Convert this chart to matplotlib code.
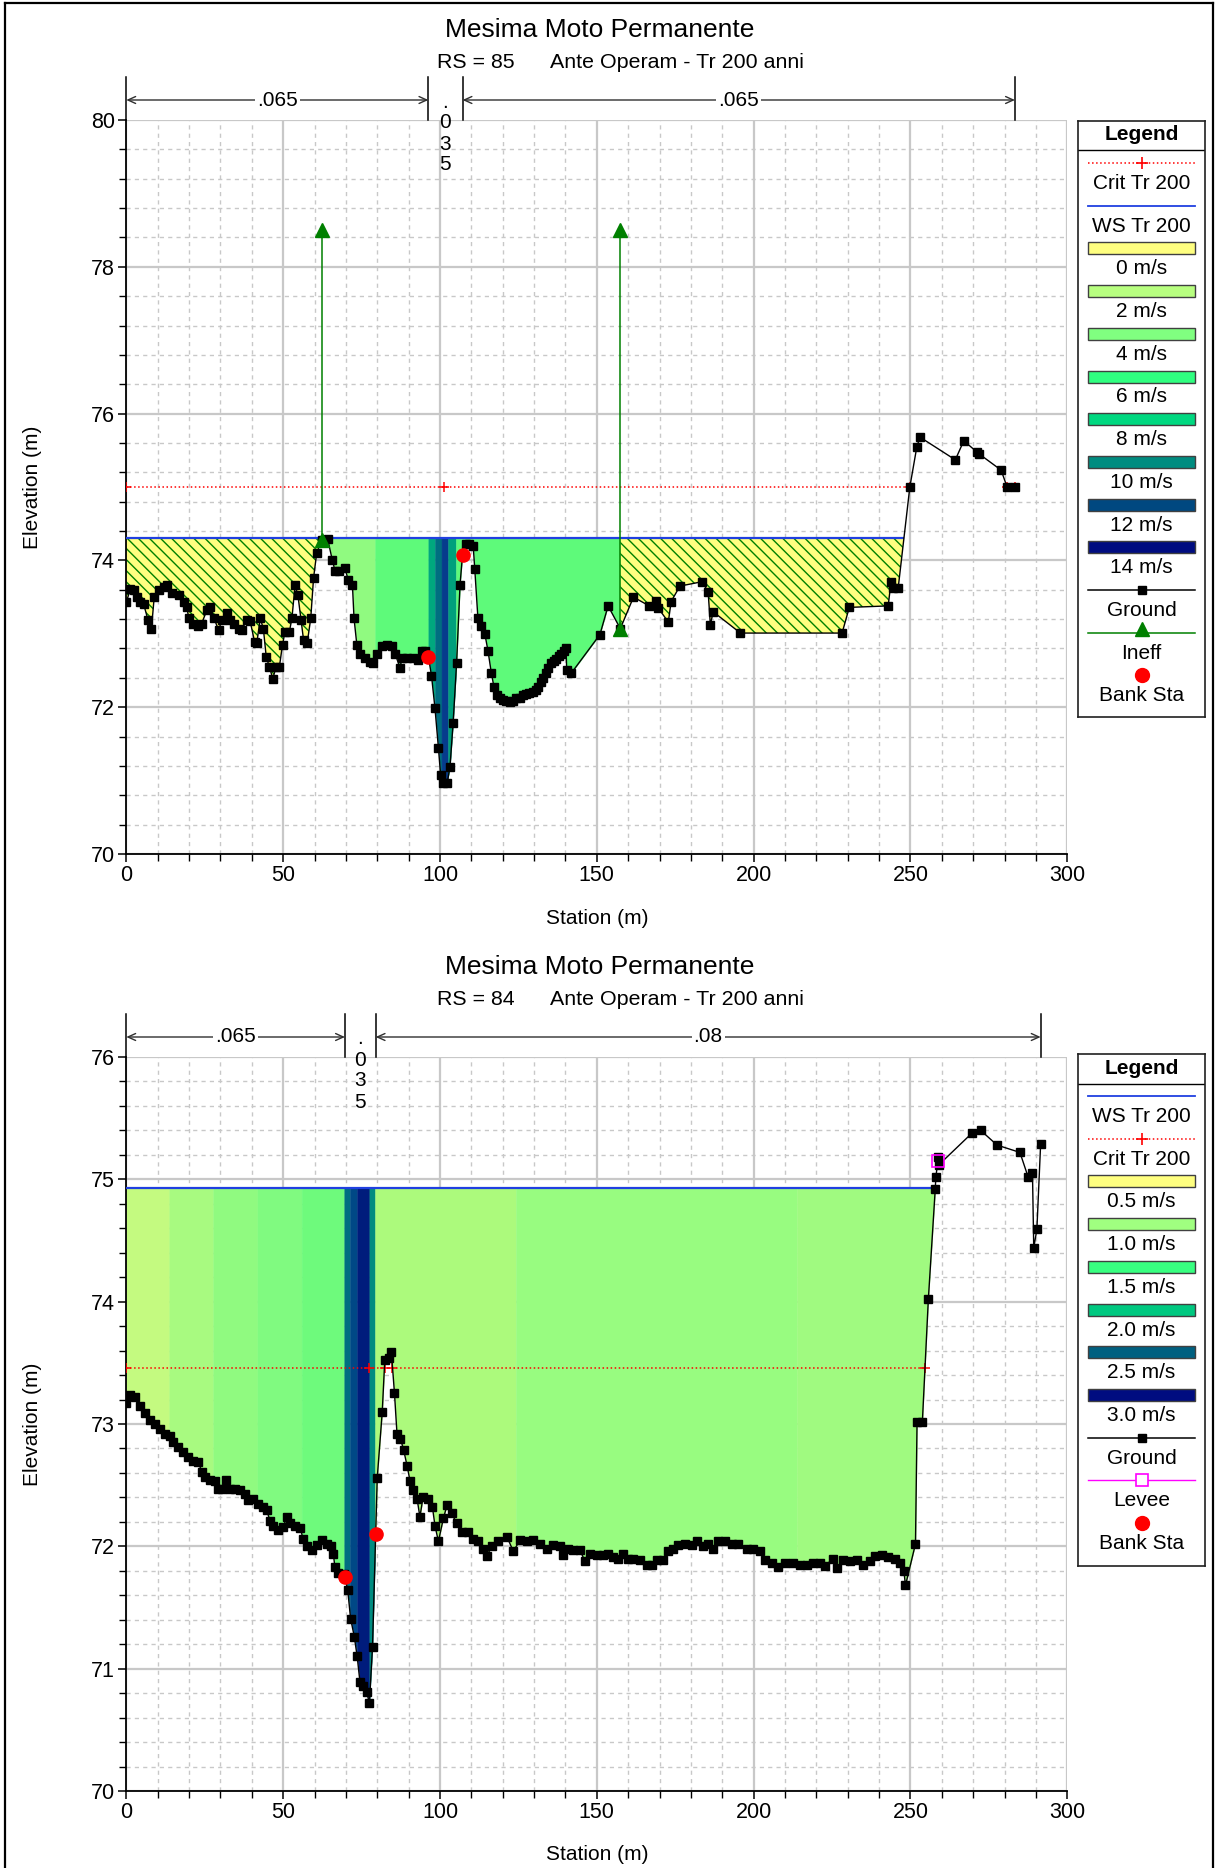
import numpy as np
import matplotlib
matplotlib.use("Agg")
import matplotlib.pyplot as plt
from matplotlib.ticker import MultipleLocator
from matplotlib.patches import Rectangle
from matplotlib.lines import Line2D
from matplotlib.transforms import blended_transform_factory

plt.rcParams["font.family"] = ["Liberation Sans", "DejaVu Sans"]
plt.rcParams["hatch.linewidth"] = 1.0

W, H, DPI = 1215, 1868, 100

TITLE = "Mesima Moto Permanente"
PLAN = "Ante Operam - Tr 200 anni"

# ---------------- RS 85 ----------------
rs85_ground = [
    (0.0, 73.43), (1.3, 73.61), (2.3, 73.60), (3.4, 73.50), (4.5, 73.44), (5.5, 73.41),
    (6.9, 73.19), (8.0, 73.06), (8.9, 73.50), (10.3, 73.60), (11.9, 73.64), (13.0, 73.66),
    (14.5, 73.55), (16.7, 73.53), (18.3, 73.44), (19.3, 73.37), (19.9, 73.21), (21.4, 73.14),
    (23.0, 73.10), (24.0, 73.14), (25.7, 73.32), (26.8, 73.37), (28.0, 73.21), (29.4, 73.05),
    (30.5, 73.19), (32.0, 73.28), (33.1, 73.19), (34.2, 73.14), (35.8, 73.07), (36.8, 73.05),
    (38.4, 73.19), (39.5, 73.17), (40.9, 72.89), (41.6, 72.87), (42.7, 73.21), (43.7, 73.07),
    (44.6, 72.69), (45.6, 72.55), (46.7, 72.39), (47.8, 72.55), (48.8, 72.55), (49.8, 72.85),
    (50.6, 73.03), (52.0, 73.03), (52.8, 73.21), (53.8, 73.66), (54.7, 73.53), (55.7, 73.19),
    (56.5, 72.92), (57.7, 72.88), (58.8, 73.21), (59.7, 73.76), (60.7, 74.10), (62.3, 74.28),
    (64.2, 74.29), (65.7, 74.00), (66.6, 73.85), (67.9, 73.85), (69.7, 73.89), (70.8, 73.73),
    (72.1, 73.66), (72.6, 73.21), (73.5, 72.85), (74.5, 72.73), (76.1, 72.67), (77.7, 72.62),
    (78.8, 72.60), (79.8, 72.73), (81.4, 72.83), (83.0, 72.85), (84.6, 72.83), (85.7, 72.73),
    (87.3, 72.53), (87.8, 72.67), (89.4, 72.67), (91.5, 72.67), (93.1, 72.64), (94.2, 72.76),
    (95.2, 72.76), (96.3, 72.69), (97.3, 72.43), (98.4, 71.99), (99.5, 71.45), (100.2, 71.08),
    (101.0, 70.97), (102.3, 70.97), (103.2, 71.19), (104.2, 71.79), (105.3, 72.60), (106.4, 73.67),
    (107.2, 74.08), (108.3, 74.23), (109.3, 74.23), (110.6, 74.19), (111.1, 73.88), (112.1, 73.21),
    (113.2, 73.10), (114.3, 73.00), (115.3, 72.77), (116.4, 72.46), (117.2, 72.28), (118.2, 72.16),
    (119.1, 72.12), (120.0, 72.10), (121.0, 72.09), (122.2, 72.07), (123.2, 72.09), (124.3, 72.12),
    (125.4, 72.13), (126.4, 72.17), (127.5, 72.18), (128.5, 72.19), (129.6, 72.21), (130.6, 72.24),
    (131.4, 72.28), (132.2, 72.35), (133.0, 72.40), (133.8, 72.46), (134.6, 72.53), (135.4, 72.60),
    (136.2, 72.63), (137.0, 72.66), (137.8, 72.70), (138.6, 72.73), (139.4, 72.77), (140.2, 72.80),
    (140.4, 72.51), (141.8, 72.46), (151.0, 72.99), (153.6, 73.38), (157.5, 73.07), (161.7, 73.50),
    (166.7, 73.38), (168.8, 73.45), (169.6, 73.35), (172.8, 73.16), (173.7, 73.44), (176.5, 73.65),
    (183.6, 73.71), (185.5, 73.57), (186.2, 73.12), (187.1, 73.30), (195.8, 73.01), (228.2, 73.01),
    (230.5, 73.36), (242.9, 73.38), (243.8, 73.71), (244.5, 73.62), (246.1, 73.63), (249.8, 75.00),
    (252.0, 75.54), (253.0, 75.68), (264.3, 75.37), (267.0, 75.63), (271.1, 75.48), (271.9, 75.45),
    (278.9, 75.23), (280.8, 75.00), (283.3, 75.00),
]
rs85_ws = 74.31
rs85_ws_end = 247.7
rs85_crit = 75.00
rs85_crit_pts = [[0.0, 101.4, 249.8], [280.8, 283.3]]
rs85_banks = [96.3, 107.2]
rs85_ineff_sta = [62.3, 157.5]
rs85_ineff_elev = [78.5, 78.5]
rs85_ineff_zones = [(0.0, 62.3), (157.5, 247.7)]
rs85_n_breaks = [0.0, 96.3, 107.2, 283.3]
rs85_n_values = [".065", ".035", ".065"]
rs85_bands = [
    (62.3, 79.3, "#90fa80"), (79.3, 96.3, "#5efa7a"), (96.3, 98.4, "#00a87e"),
    (98.4, 100.5, "#006e80"), (100.5, 102.6, "#063c8c"), (102.6, 105.1, "#00a07c"),
    (105.1, 157.5, "#5efa7a"),
]
rs85_legend_vel = ["0 m/s", "2 m/s", "4 m/s", "6 m/s", "8 m/s", "10 m/s", "12 m/s", "14 m/s"]
rs85_legend_col = ["#ffff80", "#b8ff80", "#80ff80", "#30ff80", "#00d880", "#008c80", "#004880", "#000c80"]

# ---------------- RS 84 ----------------
rs84_ground = [
    (0.0, 73.17), (1.2, 73.24), (2.8, 73.22), (4.4, 73.15), (6.0, 73.09), (7.6, 73.03),
    (9.1, 73.00), (10.7, 72.96), (12.3, 72.92), (13.9, 72.90), (15.0, 72.85), (16.6, 72.81),
    (18.2, 72.77), (19.8, 72.73), (21.4, 72.70), (23.0, 72.69), (24.0, 72.61), (25.1, 72.57),
    (26.7, 72.54), (28.3, 72.53), (29.3, 72.47), (30.4, 72.47), (31.8, 72.54), (33.1, 72.47),
    (34.7, 72.47), (36.2, 72.46), (37.8, 72.43), (38.9, 72.38), (40.5, 72.39), (42.1, 72.35),
    (43.7, 72.32), (44.7, 72.30), (45.8, 72.21), (46.9, 72.17), (48.5, 72.13), (50.1, 72.16),
    (51.1, 72.24), (52.2, 72.19), (53.8, 72.17), (55.4, 72.15), (56.4, 72.06), (57.5, 72.00),
    (59.1, 71.97), (60.7, 72.01), (62.3, 72.05), (63.9, 72.02), (65.2, 72.00), (66.0, 71.94),
    (66.5, 71.83), (67.6, 71.78), (69.5, 71.77), (70.6, 71.64), (71.5, 71.41), (72.7, 71.26),
    (73.6, 71.10), (74.5, 70.89), (75.6, 70.86), (76.6, 70.81), (77.5, 70.72), (78.5, 71.18),
    (80.0, 72.56), (81.6, 73.10), (82.4, 73.52), (83.8, 73.54), (84.5, 73.59), (85.5, 73.25),
    (86.3, 72.92), (87.4, 72.88), (88.4, 72.79), (89.5, 72.66), (90.5, 72.53), (91.5, 72.46),
    (92.7, 72.39), (93.6, 72.24), (94.6, 72.40), (96.2, 72.39), (97.6, 72.32), (98.4, 72.17),
    (99.5, 72.04), (101.1, 72.23), (102.3, 72.34), (103.7, 72.27), (105.3, 72.19), (106.9, 72.12),
    (109.0, 72.12), (110.6, 72.06), (112.2, 72.04), (113.8, 71.98), (114.9, 71.92), (116.5, 72.00),
    (118.6, 72.04), (121.3, 72.08), (123.4, 71.96), (125.5, 72.05), (127.6, 72.04), (129.7, 72.05),
    (131.9, 72.02), (134.0, 71.98), (136.1, 72.01), (138.3, 72.00), (139.3, 71.93), (140.9, 71.98),
    (142.5, 71.97), (144.6, 71.97), (146.2, 71.88), (147.8, 71.94), (150.0, 71.93), (152.1, 71.93),
    (153.7, 71.94), (155.2, 71.91), (156.8, 71.90), (158.4, 71.94), (160.0, 71.90), (161.6, 71.90),
    (163.8, 71.89), (165.9, 71.85), (167.5, 71.85), (169.1, 71.89), (171.2, 71.89), (172.8, 71.96),
    (174.4, 71.98), (176.0, 72.01), (178.1, 72.02), (180.2, 72.01), (181.8, 72.04), (183.9, 72.00),
    (185.5, 72.02), (187.1, 71.98), (188.7, 72.04), (190.8, 72.04), (193.0, 72.02), (195.1, 72.02),
    (197.8, 71.98), (199.9, 71.98), (202.0, 71.96), (203.6, 71.89), (205.7, 71.86), (207.8, 71.83),
    (210.0, 71.86), (212.6, 71.86), (214.8, 71.85), (216.9, 71.85), (219.0, 71.86), (221.1, 71.86),
    (222.7, 71.84), (225.4, 71.90), (226.5, 71.82), (228.6, 71.89), (230.7, 71.88), (232.8, 71.89),
    (235.0, 71.85), (237.1, 71.88), (238.7, 71.92), (240.8, 71.93), (242.9, 71.91), (245.0, 71.90),
    (246.6, 71.86), (247.9, 71.80), (248.4, 71.68), (251.6, 72.02), (252.1, 73.02), (253.8, 73.02),
    (255.7, 74.02), (257.9, 74.92), (258.1, 75.02), (258.9, 75.18), (259.1, 75.12), (269.7, 75.38),
    (272.4, 75.40), (277.6, 75.28), (284.9, 75.22), (287.5, 75.02), (288.9, 75.05), (289.3, 74.44),
    (290.3, 74.59), (291.5, 75.29),
]
rs84_ws = 74.93
rs84_ws_end = 257.9
rs84_crit = 73.46
rs84_crit_pts = [[0.0, 77.5, 82.4], [84.6, 254.6]]
rs84_banks = [69.7, 79.5]
rs84_levee_sta = 258.9
rs84_levee_elev = 75.15
rs84_n_breaks = [0.0, 69.7, 79.5, 291.5]
rs84_n_values = [".065", ".035", ".08"]
rs84_bands = [
    (0.0, 13.7, "#c4fa80"), (13.7, 27.7, "#a8fa80"), (27.7, 41.8, "#90fa80"),
    (41.8, 55.9, "#80fa80"), (55.9, 69.5, "#6efa7c"), (69.5, 71.3, "#006e80"),
    (71.3, 73.6, "#004886"), (73.6, 77.5, "#001c7c"), (77.5, 79.3, "#008c80"),
    (79.3, 124.2, "#acfa7c"), (124.2, 213.8, "#98fc80"), (213.8, 257.9, "#a0fa80"),
]
rs84_legend_vel = ["0.5 m/s", "1.0 m/s", "1.5 m/s", "2.0 m/s", "2.5 m/s", "3.0 m/s"]
rs84_legend_col = ["#ffff80", "#a0ff80", "#38ff80", "#00c880", "#006080", "#000c80"]


AX_LEFT, AX_RIGHT = 126.3, 1067.3
AX_H = 734.0


def px_axes(fig, top_px):
    return fig.add_axes([AX_LEFT / W, 1 - (top_px + AX_H) / H,
                         (AX_RIGHT - AX_LEFT) / W, AX_H / H])


def fill_slice(ax, sta, elev, ws, a, b, **kw):
    inner = sta[(sta > a) & (sta < b)]
    xs = np.concatenate([[a], inner, [b]])
    g = np.interp(xs, sta, elev)
    ax.fill_between(xs, g, ws, where=g <= ws, interpolate=True, **kw)


def style_axes(ax, ylo, yhi, ymaj, ymin):
    ax.set_xlim(0, 300)
    ax.set_ylim(ylo, yhi)
    ax.xaxis.set_major_locator(MultipleLocator(50))
    ax.xaxis.set_minor_locator(MultipleLocator(10))
    ax.yaxis.set_major_locator(MultipleLocator(ymaj))
    ax.yaxis.set_minor_locator(MultipleLocator(ymin))
    ax.set_axisbelow(True)
    ax.grid(which="major", color="#c8c8c8", lw=1.6, ls="-")
    ax.grid(which="minor", color="#c8c8c8", lw=1.0, ls=(0, (3, 3)))
    for side in ("top", "right"):
        ax.spines[side].set_visible(False)
    for side in ("left", "bottom"):
        ax.spines[side].set_linewidth(1.3)
    ax.tick_params(which="major", direction="out", length=6, width=1.1, labelsize=15.5, pad=2)
    ax.tick_params(which="minor", direction="out", length=5, width=1.0)
    ax.text(-94 / 941, 0.5, "Elevation (m)", transform=ax.transAxes, rotation=90,
            ha="center", va="center", fontsize=15)
    ax.text(0.5, -64 / AX_H, "Station (m)", transform=ax.transAxes,
            ha="center", va="center", fontsize=15)


def draw_titles(fig, top_px, rs):
    fig.text(600 / W, 1 - (top_px - 90) / H, TITLE, ha="center", va="center", fontsize=19)
    y = 1 - (top_px - 58) / H
    fig.text(437 / W, y, "RS = %d" % rs, ha="left", va="center", fontsize=15.4)
    fig.text(550 / W, y, PLAN, ha="left", va="center", fontsize=15.4)


def draw_n_values(ax, breaks, values):
    trans = blended_transform_factory(ax.transData, ax.transAxes)
    line_top = 1 + 43 / AX_H
    arrow_y = 1 + 20 / AX_H
    for b in breaks:
        ax.plot([b, b], [1.0, line_top], transform=trans, color="black", lw=1.1, clip_on=False)
    for a, b, v in zip(breaks[:-1], breaks[1:], values):
        mid = (a + b) / 2
        if b - a > 20:
            ax.annotate("", xy=(b, arrow_y), xytext=(a, arrow_y), xycoords=trans,
                        textcoords=trans, annotation_clip=False,
                        arrowprops=dict(arrowstyle="<->,head_length=0.55,head_width=0.25",
                                        color="#303030", lw=1.0, shrinkA=0, shrinkB=0))
            ax.text(mid, arrow_y, v, transform=trans, ha="center", va="center", fontsize=15,
                    bbox=dict(fc="white", ec="none", pad=1.5), clip_on=False)
        else:
            # narrow reach: the value is written one character per line
            for k, ch in enumerate(v):
                ax.text(mid, arrow_y - (k * 21 + 2) / AX_H, ch, transform=trans,
                        ha="center", va="center", fontsize=15, clip_on=False)


def draw_section(ax, ground, ws, ws_end, crit, crit_pts, banks, bands,
                 ineff_zones=(), ineff_sta=(), ineff_elev=()):
    sta = np.array([p[0] for p in ground])
    elev = np.array([p[1] for p in ground])
    for a, b, c in bands:
        fill_slice(ax, sta, elev, ws, a, b, facecolor=c, edgecolor=c, lw=0.3, zorder=2)
    for a, b in ineff_zones:
        fill_slice(ax, sta, elev, ws, a, b, facecolor="#ffff80", edgecolor="#008000",
                   hatch="\\\\\\", lw=0, zorder=2)
    ax.plot([0, ws_end], [ws, ws], color="#2040e0", lw=1.6, zorder=3)
    for seg in crit_pts:
        ax.plot(seg, [crit] * len(seg), color="red", ls=":", lw=1.1, marker="+",
                ms=7, mew=1.1, zorder=3)
    for s, e in zip(ineff_sta, ineff_elev):
        g = np.interp(s, sta, elev)
        ax.plot([s, s], [g, e], color="#008000", lw=1.1, zorder=4)
        ax.plot([s, s], [g, e], ls="none", marker="^", color="#008000", ms=10, zorder=6)
    ax.plot(sta, elev, color="black", lw=1.0, marker="s", ms=6, zorder=5)
    bank_el = np.interp(banks, sta, elev)
    ax.plot(banks, bank_el, ls="none", marker="o", color="red", ms=9.5, zorder=6)
    return sta, elev


def draw_legend(fig, box, entries):
    x0, y0, x1, y1 = box
    lax = fig.add_axes([x0 / W, 1 - y1 / H, (x1 - x0) / W, (y1 - y0) / H])
    lax.set_xlim(x0, x1)
    lax.set_ylim(y1, y0)
    lax.set_xticks([])
    lax.set_yticks([])
    for s in lax.spines.values():
        s.set_linewidth(1.2)
        s.set_color("#202020")
    xm = (x0 + x1) / 2
    xa, xb = x0 + 10, x1 - 10
    lax.text(xm, y0 + 14, "Legend", ha="center", va="center", fontsize=15, weight="bold")
    lax.plot([x0, x1], [y0 + 29.5] * 2, color="black", lw=1.0)
    for i, (kind, color, label) in enumerate(entries):
        ys = y0 + 42 + i * 42.7
        if kind == "crit":
            lax.plot([xa, xb], [ys, ys], color=color, ls=":", lw=1.1)
            lax.plot([xm], [ys], marker="+", color=color, ms=8, mew=1.2)
        elif kind == "ws":
            lax.plot([xa, xb], [ys, ys], color=color, lw=1.3)
        elif kind == "fill":
            lax.add_patch(Rectangle((xa, ys - 6), xb - xa, 12, facecolor=color,
                                    edgecolor="#404040", lw=1.0))
        elif kind == "ground":
            lax.plot([xa, xb], [ys, ys], color=color, lw=1.1)
            lax.plot([xm], [ys], marker="s", color=color, ms=6)
        elif kind == "ineff":
            lax.plot([xa, xb], [ys, ys], color=color, lw=1.1)
            lax.plot([xm], [ys - 4], marker="^", color=color, ms=10)
        elif kind == "levee":
            lax.plot([xa, xb], [ys, ys], color=color, lw=1.0)
            lax.plot([xm], [ys], marker="s", mfc="white", mec=color, ms=9, mew=1.2)
        elif kind == "bank":
            lax.plot([xm], [ys], marker="o", color=color, ms=10)
        lax.text(xm, ys + 20.5, label, ha="center", va="center", fontsize=15)


fig = plt.figure(figsize=(W / DPI, H / DPI), dpi=DPI)

# upper section, RS 85
ax1 = px_axes(fig, 120)
style_axes(ax1, 70, 80, 2, 0.4)
draw_section(ax1, rs85_ground, rs85_ws, rs85_ws_end, rs85_crit, rs85_crit_pts,
             rs85_banks, rs85_bands, rs85_ineff_zones, rs85_ineff_sta, rs85_ineff_elev)
draw_n_values(ax1, rs85_n_breaks, rs85_n_values)
draw_titles(fig, 120, 85)
leg1 = [("crit", "red", "Crit Tr 200"), ("ws", "#2040e0", "WS Tr 200")]
leg1 += [("fill", c, v) for v, c in zip(rs85_legend_vel, rs85_legend_col)]
leg1 += [("ground", "black", "Ground"), ("ineff", "#008000", "Ineff"), ("bank", "red", "Bank Sta")]
draw_legend(fig, (1078, 121, 1205, 717), leg1)

# lower section, RS 84
ax2 = px_axes(fig, 1057)
style_axes(ax2, 70, 76, 1, 0.2)
draw_section(ax2, rs84_ground, rs84_ws, rs84_ws_end, rs84_crit, rs84_crit_pts,
             rs84_banks, rs84_bands)
ax2.plot([rs84_levee_sta], [rs84_levee_elev], ls="none", marker="s", mfc="none",
         mec="#ff00ff", ms=9, mew=1.2, zorder=7)
draw_n_values(ax2, rs84_n_breaks, rs84_n_values)
draw_titles(fig, 1057, 84)
leg2 = [("ws", "#2040e0", "WS Tr 200"), ("crit", "red", "Crit Tr 200")]
leg2 += [("fill", c, v) for v, c in zip(rs84_legend_vel, rs84_legend_col)]
leg2 += [("ground", "black", "Ground"), ("levee", "#ff00ff", "Levee"), ("bank", "red", "Bank Sta")]
draw_legend(fig, (1078, 1054, 1205, 1566), leg2)

# outer frame of the page
for xs, ys in (([5, 5], [0, H - 3]), ([5, W - 2], [H - 3, H - 3]), ([W - 2, W - 2], [0, H - 3])):
    fig.add_artist(Line2D(np.array(xs) / W, np.array(ys) / H, color="black", lw=1.6))

fig.savefig("out.png", dpi=DPI)
